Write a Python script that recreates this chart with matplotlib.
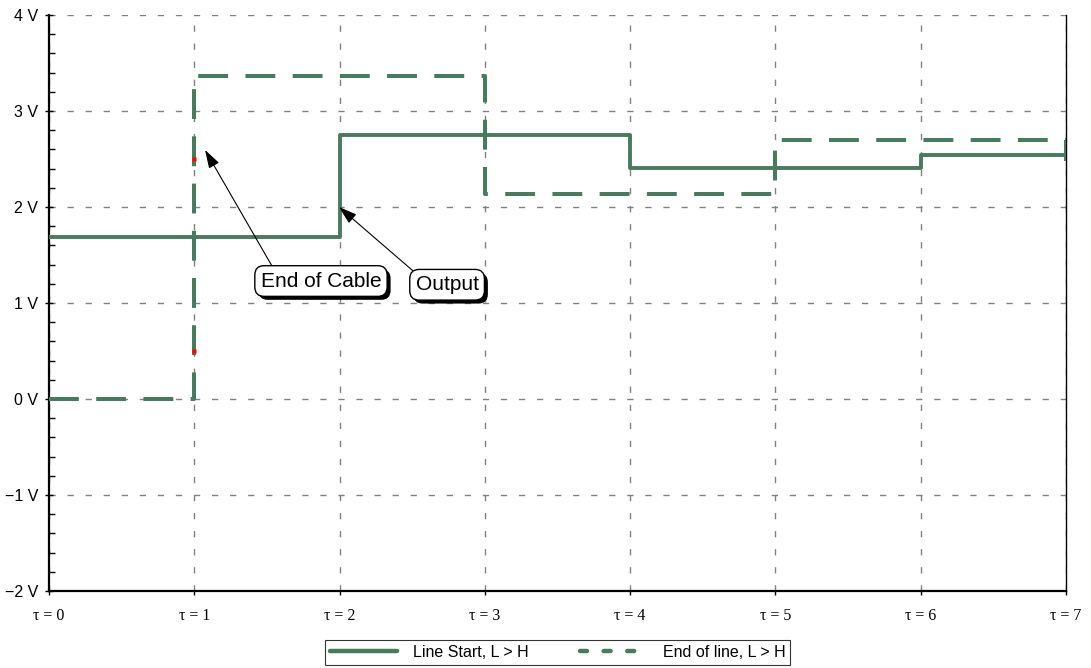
import matplotlib
matplotlib.use("Agg")
import matplotlib.pyplot as plt
import matplotlib.patheffects as pe
from matplotlib.lines import Line2D
from matplotlib.ticker import MultipleLocator

plt.rcParams['lines.scale_dashes'] = False
plt.rcParams['font.family'] = ['Liberation Sans', 'DejaVu Sans']

# Data
start_t = [0, 2, 4, 6, 7, 7]
start_v = [1.6875, 2.75, 2.406, 2.54, 2.70, 2.70]
end_t = [0, 1, 3, 5, 7, 7]
end_v = [0.0, 3.365, 2.135, 2.698, 2.48, 2.48]
red_t = [1, 1]
red_v = [2.5, 0.5]
yticks = [-2, -1, 0, 1, 2, 3, 4]
ylabels = ["−2 V", "−1 V", "0 V", "1 V", "2 V", "3 V", "4 V"]
xticks = [0, 1, 2, 3, 4, 5, 6, 7]
xlabels = ["τ = 0", "τ = 1", "τ = 2", "τ = 3", "τ = 4", "τ = 5", "τ = 6", "τ = 7"]
series_names = ["Line Start, L > H", "End of line, L > H"]

green = '#4a7a5e'

fig = plt.figure(figsize=(10.91, 6.68), dpi=100)
ax = fig.add_axes([49/1091, 77/668, (1066-49)/1091, (591-15)/668])

ax.plot(start_t, start_v, drawstyle='steps-post', color=green, lw=2.8,
        zorder=3, solid_capstyle='butt')
ax.plot(end_t, end_v, drawstyle='steps-post', color=green, lw=2.9,
        dashes=(21.5, 12.5), zorder=3, dash_capstyle='butt')
ax.plot(red_t, red_v, ls='none', marker='s', ms=2.5, color='red', mec='none', zorder=4)

ax.set_xlim(0, 7)
ax.set_ylim(-2, 4)
ax.set_yticks(yticks)
ax.set_yticklabels(ylabels, fontsize=11.5)
ax.set_xticks(xticks)
ax.set_xticklabels(xlabels, fontsize=11.5, family=['Liberation Serif', 'DejaVu Serif'])
ax.yaxis.set_minor_locator(MultipleLocator(0.2))
ax.tick_params(axis='y', which='major', direction='inout', length=6, width=1, pad=5)
ax.tick_params(axis='y', which='minor', direction='in', length=4, width=1)
ax.tick_params(axis='x', which='major', direction='out', length=3, width=1, pad=9)

ax.grid(True, which='major', color='#808080', lw=1, dashes=(4.5, 8.5))
ax.set_axisbelow(True)

for s in ['left', 'bottom']:
    ax.spines[s].set_linewidth(1.6)
ax.spines['top'].set_visible(False)
ax.spines['right'].set_linewidth(1.0)

def boxed(text, xy, xytext, relpos):
    ann = ax.annotate(text, xy=xy, xytext=xytext, fontsize=15, ha='center', va='center',
                      bbox=dict(boxstyle='round,pad=0.28,rounding_size=0.45', fc='white', ec='black', lw=1),
                      arrowprops=dict(arrowstyle='-|>,head_length=0.7,head_width=0.22', color='black',
                                      lw=0.8, mutation_scale=16, relpos=relpos, shrinkA=0, shrinkB=0),
                      zorder=5)
    ann.get_bbox_patch().set_path_effects([
        pe.SimplePatchShadow(offset=(2.5, -2.5), shadow_rgbFace='black', alpha=1.0),
        pe.Normal()])
    return ann

boxed("End of Cable", (1.074, 2.594), (1.872, 1.229), (0.12, 1.0))
boxed("Output", (1.996, 2.0), (2.74, 1.19), (0.04, 1.0))

h1 = Line2D([], [], color=green, lw=3.2, solid_capstyle='round')
h2 = Line2D([], [], color=green, lw=3.2, dashes=(5, 12), dash_capstyle='round')
leg = ax.legend([h1, h2], series_names, loc='upper center', bbox_to_anchor=(0.5, -0.085),
                ncol=2, frameon=True, fancybox=False, edgecolor='black', fontsize=11.5,
                handlelength=4.2, columnspacing=3.2, borderpad=0.3, handletextpad=1.0,
                borderaxespad=0)
leg.get_frame().set_linewidth(0.8)

fig.savefig('out.png', dpi=100)
